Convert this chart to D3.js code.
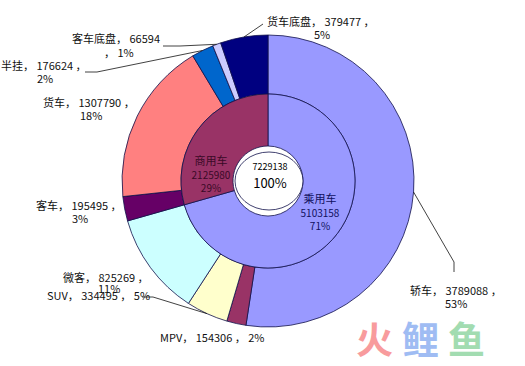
<!DOCTYPE html>
<html>
<head>
<meta charset="utf-8">
<script src="https://cdn.jsdelivr.net/npm/d3@7"></script>
<style>
  body { margin: 0; background: #fff; }
  svg { display: block; font-family: "Noto Sans CJK SC", "DejaVu Sans", sans-serif; }
</style>
</head>
<body>
<svg class="main-svg" width="525" height="366"></svg>
<script>
// inner ring
const innerNames = ['乘用车', '商用车']
const innerValues = [5103158, 2125980]
const innerPct = ['71%', '29%']
const innerColors = ['#9999ff', '#993366']

// outer ring, clockwise from 12 o'clock
const outerNames = ['轿车', 'MPV', 'SUV', '微客', '客车', '货车', '半挂', '客车底盘', '货车底盘']
const outerValues = [3789088, 154306, 334495, 825269, 195495, 1307790, 176624, 66594, 379477]
const outerPct = ['53%', '2%', '5%', '11%', '3%', '18%', '2%', '1%', '5%']
const outerColors = ['#9999ff', '#993366', '#ffffcc', '#ccffff', '#660066', '#ff8080', '#0066cc', '#ccccff', '#000080']

const total = 7229138

const cx = 268
const cy = 181
const rOuter = 146
const rMid = 87
const rHole = 35

// label layout (first line, second line, leader line start)
const labelPos = {
  '轿车': { l1: [410, 295], l2: [445, 308], lead: [[454, 272], [454, 262]] },
  'MPV': { l1: [160, 342], l2: null },
  'SUV': { l1: [47, 300], l2: null, lead: [[142, 297], [153, 297]] },
  '微客': { l1: [63, 282], l2: [98, 293] },
  '客车': { l1: [36, 210], l2: [72, 223] },
  '货车': { l1: [43, 107], l2: [80, 120] },
  '半挂': { l1: [1, 70], l2: [37, 83], lead: [[85, 72], [97, 72]] },
  '客车底盘': { l1: [72, 43], l2: [104, 57], lead: [[163, 46], [180, 46]] },
  '货车底盘': { l1: [267, 26], l2: [314, 39], lead: [[263, 24]] }
}

const svg = d3.select('.main-svg')
const g = svg.append('g').attr('transform', `translate(${cx},${cy})`)

const pie = d3.pie().sort(null).value(d => d)
const outerArcs = pie(outerValues)
const innerArcs = pie(innerValues)

const outerArc = d3.arc().innerRadius(rMid).outerRadius(rOuter)
const innerArc = d3.arc().innerRadius(rHole).outerRadius(rMid)

g.selectAll('.outer')
  .data(outerArcs)
  .enter()
  .append('path')
  .attr('class', 'outer')
  .attr('d', outerArc)
  .attr('fill', (d, i) => outerColors[i])
  .attr('stroke', '#10104a')
  .attr('stroke-width', 0.8)

g.selectAll('.inner')
  .data(innerArcs)
  .enter()
  .append('path')
  .attr('class', 'inner')
  .attr('d', innerArc)
  .attr('fill', (d, i) => innerColors[i])
  .attr('stroke', '#10104a')
  .attr('stroke-width', 0.8)

// white centre
g.append('ellipse')
  .attr('cx', 1)
  .attr('rx', 34)
  .attr('ry', 29)
  .attr('fill', '#fff')
  .attr('stroke', '#10104a')
  .attr('stroke-width', 0.8)

g.append('text')
  .attr('x', 2)
  .attr('y', -11)
  .attr('text-anchor', 'middle')
  .style('font-size', '9px')
  .text(total)
g.append('text')
  .attr('x', 2)
  .attr('y', 7)
  .attr('text-anchor', 'middle')
  .style('font-size', '13px')
  .text('100%')

// inner labels
const innerLabelPos = [[320, 203], [211, 165]]
const innerTextColor = ['#101060', '#3a0a26']
innerArcs.forEach((d, i) => {
  const t = svg.append('text')
    .attr('text-anchor', 'middle')
    .attr('fill', innerTextColor[i])
    .style('font-size', '11px')
  const lines = [innerNames[i], innerValues[i], innerPct[i]]
  lines.forEach((s, k) => {
    t.append('tspan')
      .attr('x', innerLabelPos[i][0])
      .attr('y', innerLabelPos[i][1] + k * 13.5)
      .style('font-size', k === 0 ? '11px' : '10px')
      .text(s)
  })
})

// outer labels + leader lines
outerArcs.forEach((d, i) => {
  const name = outerNames[i]
  const p = labelPos[name]
  const oneLine = !p.l2
  const line1 = oneLine
    ? `${name}， ${outerValues[i]} ， ${outerPct[i]}`
    : (name === '客车底盘' ? `${name}， ${outerValues[i]}` : `${name}， ${outerValues[i]} ，`)
  const line2 = name === '客车底盘' ? `， ${outerPct[i]}` : outerPct[i]

  svg.append('text')
    .attr('x', p.l1[0])
    .attr('y', p.l1[1])
    .style('font-size', '11px')
    .attr('fill', '#111')
    .text(line1)
  if (p.l2) {
    svg.append('text')
      .attr('x', p.l2[0])
      .attr('y', p.l2[1])
      .style('font-size', '11px')
      .attr('fill', '#111')
      .text(line2)
  }

  if (p.lead) {
    const mid = (d.startAngle + d.endAngle) / 2
    const end = [cx + rOuter * Math.sin(mid), cy - rOuter * Math.cos(mid)]
    const pts = p.lead.concat([end])
    svg.append('path')
      .attr('d', d3.line()(pts))
      .attr('fill', 'none')
      .attr('stroke', '#111')
      .attr('stroke-width', 0.8)
  }
})

// watermark
const mark = svg.append('text')
  .attr('x', 356)
  .attr('y', 354)
  .style('font-size', '37px')
  .style('font-weight', 'bold')
  .style('letter-spacing', '9px')
  .attr('opacity', 0.85)
mark.append('tspan').attr('fill', '#f78a8c').text('火')
mark.append('tspan').attr('fill', '#8fb1f2').text('鲤')
mark.append('tspan').attr('fill', '#92d6a4').text('鱼')
</script>
</body>
</html>
